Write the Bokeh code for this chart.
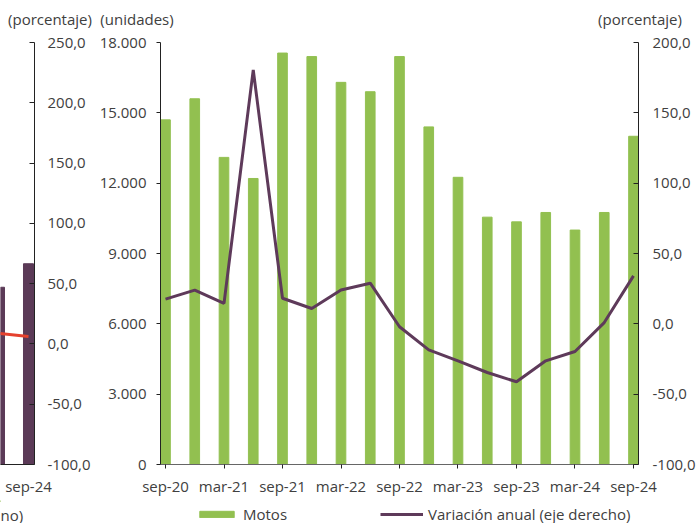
from bokeh.plotting import figure
from bokeh.layouts import row, column
from bokeh.models import (Range1d, LinearAxis, FixedTicker, Legend,
                          LegendItem, ColumnDataSource)
from bokeh.core.properties import value
from bokeh.embed import file_html
from bokeh.resources import INLINE

# ---------------- data ----------------
quarters = ["sep-20", "dic-20", "mar-21", "jun-21", "sep-21", "dic-21", "mar-22",
            "jun-22", "sep-22", "dic-22", "mar-23", "jun-23", "sep-23", "dic-23",
            "mar-24", "jun-24", "sep-24"]
motos = [14700, 15600, 13100, 12200, 17550, 17400, 16300, 15900, 17400, 14400,
         12250, 10550, 10350, 10750, 10000, 10750, 14000]
variacion = [17.6, 24.0, 14.5, 180.5, 18.2, 10.9, 24.0, 28.9, -2.1, -18.5,
             -26.3, -34.6, -41.2, -26.3, -19.7, 0.9, 34.1]

units_ticks = [0, 3000, 6000, 9000, 12000, 15000, 18000]
units_labels = ["0", "3.000", "6.000", "9.000", "12.000", "15.000", "18.000"]
pct_ticks = [-100, -50, 0, 50, 100, 150, 200]
pct_labels = ["-100,0", "-50,0", "0,0", "50,0", "100,0", "150,0", "200,0"]
axis_titles = ["(porcentaje)", "(unidades)", "(porcentaje)"]
series_names = ["Motos", "Variación anual (eje derecho)"]

# partially visible chart on the left (cut by the frame)
prev_quarters = ["jun-24", "sep-24"]
prev_bars = [47.0, 66.5]
prev_line = [8.6, 6.2]
prev_ticks = [-100, -50, 0, 50, 100, 150, 200, 250]
prev_labels = ["-100,0", "-50,0", "0,0", "50,0", "100,0", "150,0", "200,0", "250,0"]
prev_legend_tail = "no)"

GREEN = "#92c050"
PURPLE = "#5e3a5a"
BARPURPLE = "#5b3a57"
RED = "#e5412e"
TXT = "#404040"
FONT = "Open Sans"
FS = "15px"

W = 698
TOP_H = 30
MID_H = 470
BOT_H = 23


def strip(h):
    f = figure(width=W, height=h, x_range=Range1d(0, W), y_range=Range1d(h, 0),
               output_backend="svg", toolbar_location=None,
               x_axis_type=None, y_axis_type=None, min_border=0)
    f.outline_line_color = None
    f.grid.visible = False
    return f


# ---------------- top strip: axis unit titles ----------------
top = strip(TOP_H)
top.text(x=[49.5, 136.5, 639.5], y=[18, 18, 18], text=axis_titles,
         text_align="center", text_baseline="middle",
         text_font=value(FONT), text_font_size=FS, text_color=TXT)

# ---------------- left (cropped) figure ----------------
p1 = figure(width=95, height=MID_H, x_range=Range1d(0.0345, 1.207),
            y_range=Range1d(-100, 250), output_backend="svg",
            toolbar_location=None, min_border_left=0, min_border_right=61,
            min_border_top=12, min_border_bottom=36,
            y_axis_location="right")
p1.outline_line_color = None
p1.grid.visible = False
idx1 = list(range(len(prev_quarters)))
p1.vbar(x=idx1, top=prev_bars, bottom=-100, width=0.345, color=BARPURPLE)
p1.line(x=idx1, y=prev_line, line_color=RED, line_width=3)

ya1 = p1.yaxis[0]
ya1.ticker = FixedTicker(ticks=prev_ticks)
ya1.major_label_overrides = {t: l for t, l in zip(prev_ticks, prev_labels)}
ya1.major_tick_in = 5
ya1.major_tick_out = 0
ya1.minor_tick_line_color = None
ya1.major_label_standoff = 13
xa1 = p1.xaxis[0]
xa1.ticker = FixedTicker(ticks=[1])
xa1.major_label_overrides = {1: prev_quarters[1]}
xa1.major_tick_in = 0
xa1.major_tick_out = 0
xa1.minor_tick_line_color = None
xa1.major_label_standoff = 11
for ax in (ya1, xa1):
    ax.axis_line_color = "#222222"
    ax.major_tick_line_color = "#222222"
    ax.major_label_text_font = FONT
    ax.major_label_text_font_size = FS
    ax.major_label_text_color = TXT

# ---------------- main figure ----------------
idx = list(range(len(quarters)))
src = ColumnDataSource(dict(idx=idx, q=quarters, motos=motos, var=variacion))

p2 = figure(width=W - 95, height=MID_H, x_range=Range1d(-0.171, 16.171),
            y_range=Range1d(0, 18000), output_backend="svg",
            toolbar_location=None, min_border_left=65, min_border_right=60,
            min_border_top=12, min_border_bottom=36)
p2.outline_line_color = None
p2.grid.visible = False
p2.extra_y_ranges = {"pct": Range1d(-100, 200)}
ra = LinearAxis(y_range_name="pct")
p2.add_layout(ra, "right")

p2.vbar(x="idx", top="motos", width=0.33, source=src, color=GREEN)
p2.line(x="idx", y="var", source=src, y_range_name="pct",
        line_color=PURPLE, line_width=3)

la = p2.yaxis[0]
la.ticker = FixedTicker(ticks=units_ticks)
la.major_label_overrides = {t: l for t, l in zip(units_ticks, units_labels)}
la.major_tick_in = 0
la.major_tick_out = 4
la.major_label_standoff = 10

ra.ticker = FixedTicker(ticks=pct_ticks)
ra.major_label_overrides = {t: l for t, l in zip(pct_ticks, pct_labels)}
ra.major_tick_in = 5
ra.major_tick_out = 0
ra.major_label_standoff = 14

xa = p2.xaxis[0]
shown = [i for i in idx if i % 2 == 0]
xa.ticker = FixedTicker(ticks=shown)
xa.major_label_overrides = {i: quarters[i] for i in shown}
xa.major_tick_in = 0
xa.major_tick_out = 4
xa.major_label_standoff = 7

for ax in (la, ra, xa):
    ax.minor_tick_line_color = None
    ax.axis_line_color = "#222222"
    ax.major_tick_line_color = "#222222"
    ax.major_label_text_font = FONT
    ax.major_label_text_font_size = FS
    ax.major_label_text_color = TXT
xa.axis_line_color = "#666666"

# ---------------- bottom strip: legends ----------------
bot = strip(BOT_H)
bot.text(x=[0], y=[14], text=[prev_legend_tail], text_align="left",
         text_baseline="middle", text_font=value(FONT), text_font_size=FS,
         text_color=TXT)
# legend-only proxies, kept outside the visible x range
sw_bar = bot.vbar(x=[-100], top=[1], width=1, color=GREEN)
sw_line = bot.line(x=[-100, -90], y=[1, 1], line_color=PURPLE, line_width=3)
legend = Legend(items=[LegendItem(label=series_names[0], renderers=[sw_bar]),
                       LegendItem(label=series_names[1], renderers=[sw_line])],
                location=(195, -1), orientation="horizontal",
                spacing=93, label_standoff=5, glyph_width=43,
                glyph_height=8, padding=0, margin=0,
                border_line_alpha=0, background_fill_alpha=0,
                label_text_font=FONT, label_text_font_size=FS,
                label_text_color=TXT)
bot.add_layout(legend, "center")

layout = column(top, row(p1, p2), bot,
                styles={"position": "absolute", "left": "0px", "top": "0px"})

open("out.html", "w").write(file_html(layout, INLINE))
